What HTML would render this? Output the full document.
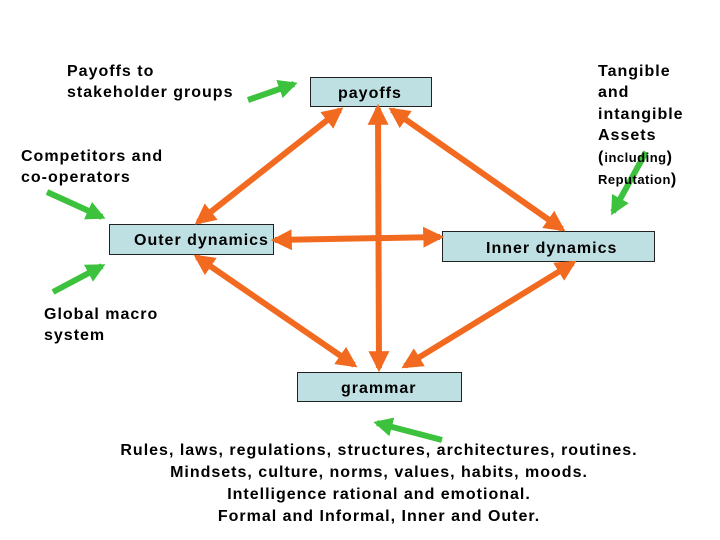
<!DOCTYPE html>
<html><head><style>
body{margin:0;background:#fff;}
svg{display:block;font-family:"Liberation Sans",Arial,sans-serif;font-weight:bold;}
</style></head><body>
<svg width="720" height="540" viewBox="0 0 720 540">
<defs>
<marker id="o" viewBox="0 0 10 10" refX="8" refY="5" markerWidth="3.5" markerHeight="3.5" orient="auto-start-reverse"><path d="M0,0L10,5L0,10z" fill="#f26a1f"/></marker>
<marker id="g" viewBox="0 0 10 10" refX="8" refY="5" markerWidth="3.2" markerHeight="3.2" orient="auto"><path d="M0,0L10,5L0,10z" fill="#3cc23c"/></marker>
</defs>
<g fill="#bfe0e3" stroke="#222" stroke-width="1">
<rect x="310.5" y="77.5" width="121" height="29"/>
<rect x="109.5" y="224.5" width="164" height="30"/>
<rect x="442.5" y="231.5" width="212" height="30"/>
<rect x="297.5" y="372.5" width="164" height="29"/>
</g>
<g stroke="#f26a1f" stroke-width="6" marker-start="url(#o)" marker-end="url(#o)" fill="none">
<line x1="340" y1="110" x2="198" y2="222"/>
<line x1="378" y1="108" x2="379" y2="368"/>
<line x1="392" y1="110" x2="562" y2="229"/>
<line x1="275" y1="240" x2="440" y2="237"/>
<line x1="197" y1="257" x2="354" y2="365"/>
<line x1="573" y1="263" x2="405" y2="366"/>
</g>
<g stroke="#3cc23c" stroke-width="6" marker-end="url(#g)" fill="none">
<line x1="248" y1="100" x2="294" y2="84"/>
<line x1="47" y1="192" x2="102" y2="217"/>
<line x1="53" y1="292" x2="102" y2="266"/>
<line x1="646" y1="152" x2="613" y2="212"/>
<line x1="442" y1="440" x2="377" y2="423"/>
</g>
<g font-size="16" fill="#000" letter-spacing="1">
<text x="338" y="98">payoffs</text>
<text x="134" y="245">Outer dynamics</text>
<text x="486" y="253">Inner dynamics</text>
<text x="341" y="393">grammar</text>
<text x="67" y="76">Payoffs to</text>
<text x="67" y="97">stakeholder groups</text>
<text x="21" y="161">Competitors and</text>
<text x="21" y="182">co-operators</text>
<text x="44" y="319">Global macro</text>
<text x="44" y="340">system</text>
<text x="598" y="76">Tangible</text>
<text x="598" y="97">and</text>
<text x="598" y="119">intangible</text>
<text x="598" y="140">Assets</text>
<text x="598" y="162">(<tspan font-size="13" letter-spacing="0.5">including</tspan>)</text>
<text x="598" y="184"><tspan font-size="13" letter-spacing="0.5">Reputation</tspan>)</text>
<g text-anchor="middle">
<text x="379" y="455">Rules, laws, regulations, structures, architectures,  routines.</text>
<text x="379" y="477">Mindsets, culture, norms, values, habits, moods.</text>
<text x="379" y="499">Intelligence rational and emotional.</text>
<text x="379" y="521">Formal and Informal, Inner and Outer.</text>
</g>
</g>
</svg>
</body></html>
